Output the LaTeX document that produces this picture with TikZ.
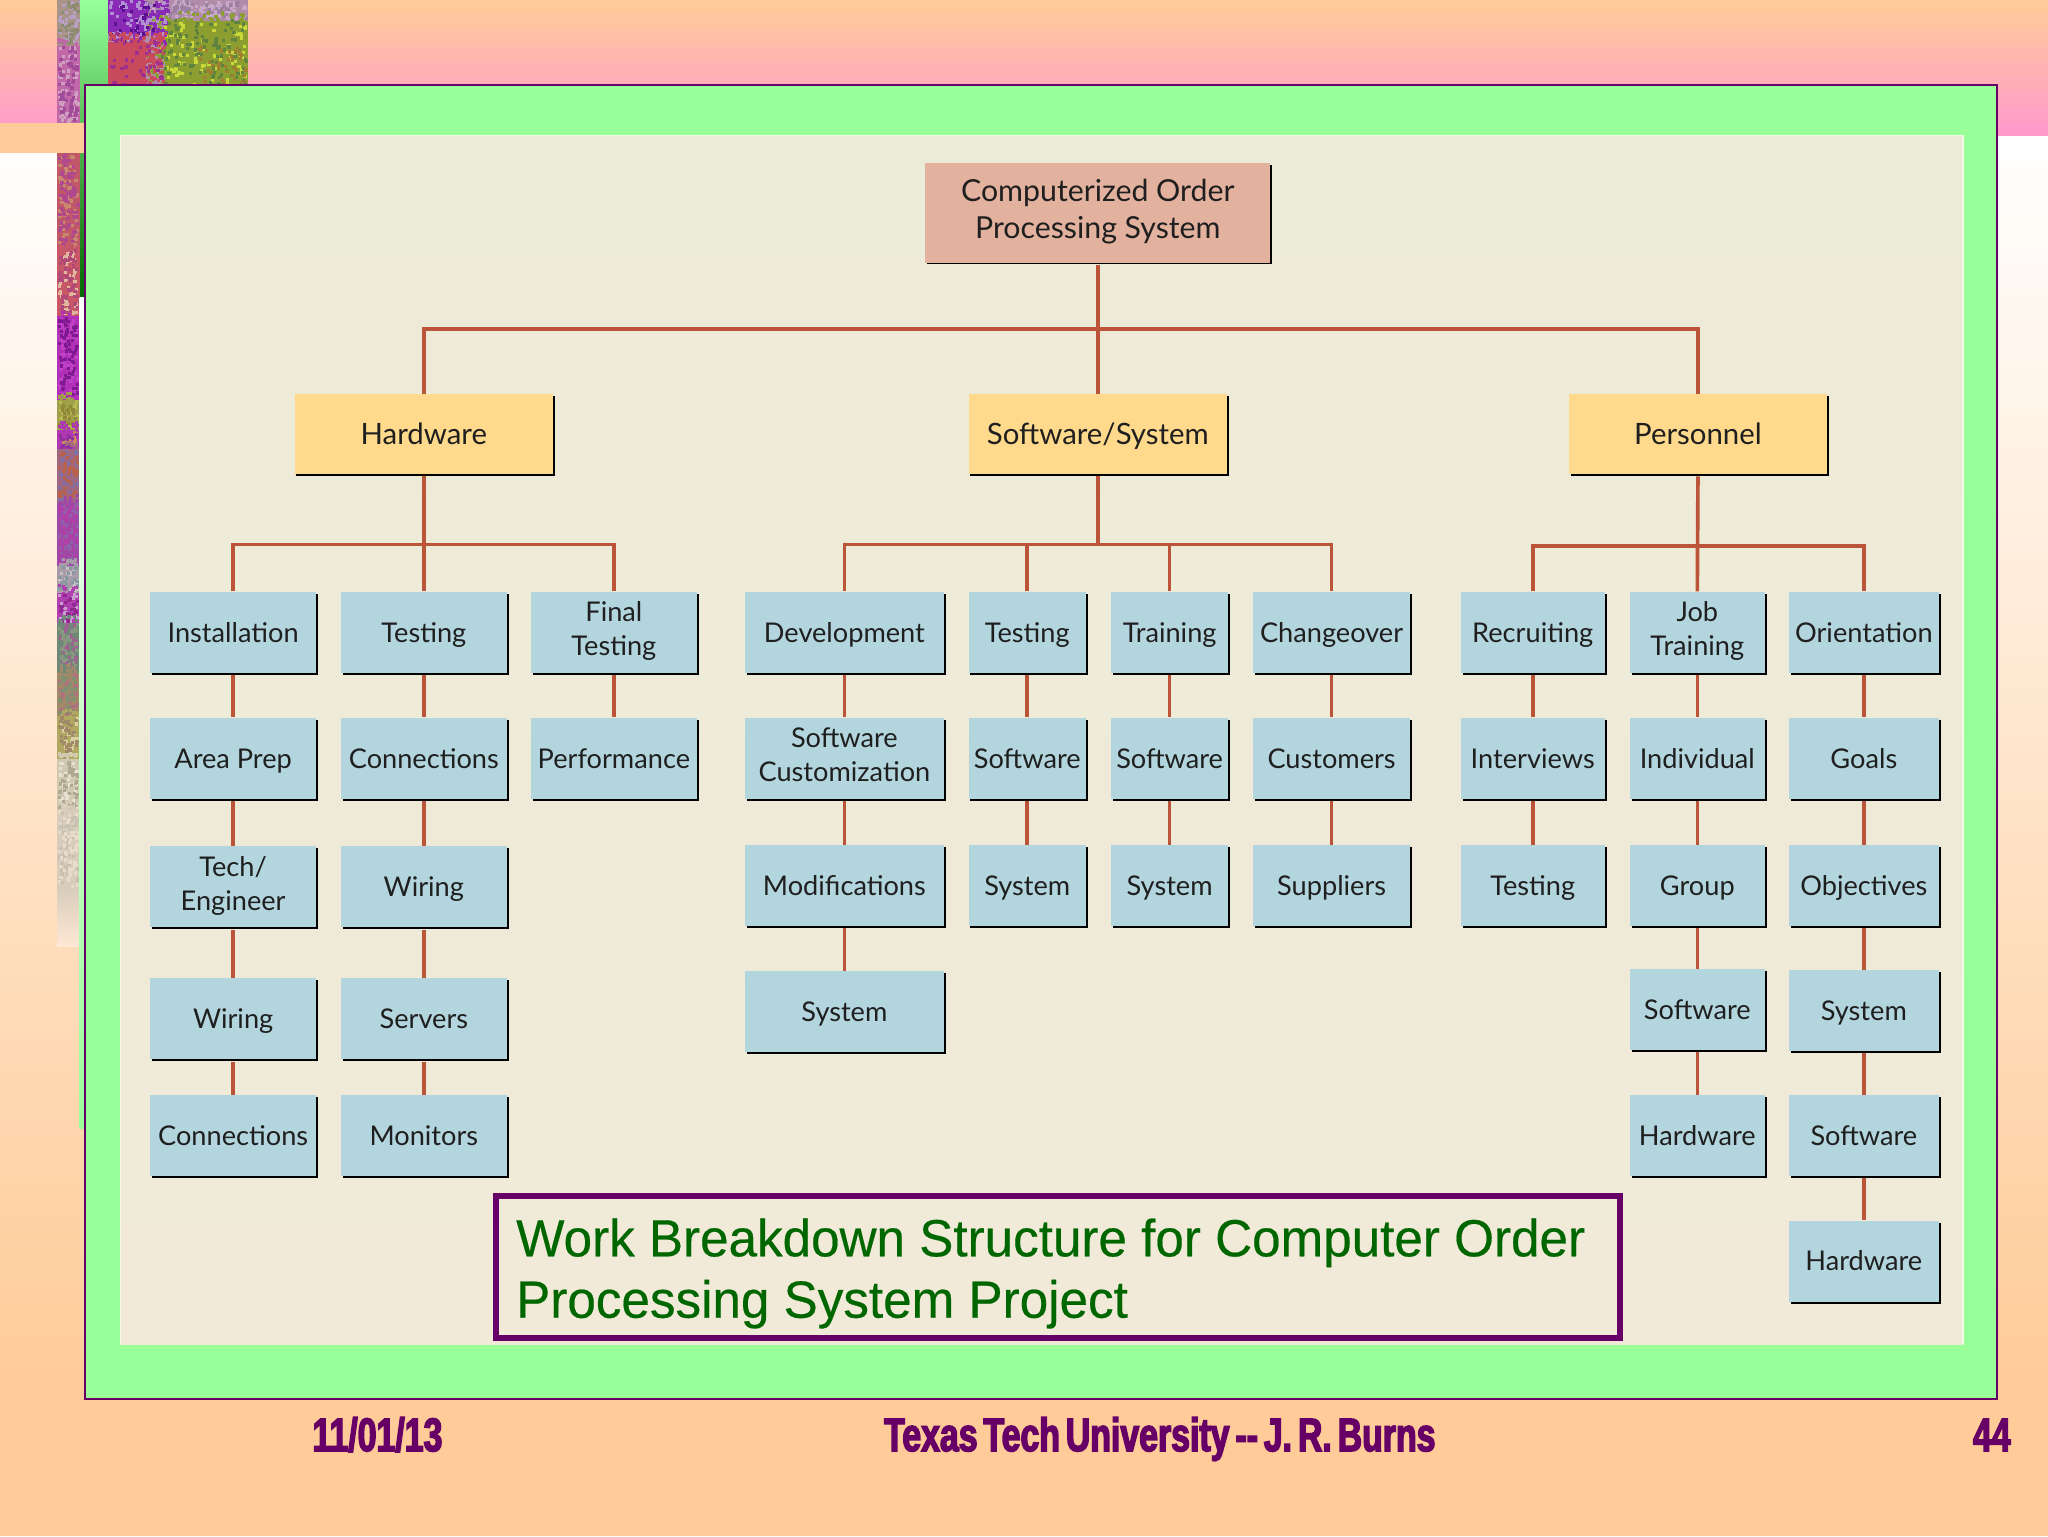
\documentclass[tikz,border=0pt]{standalone}
\usepackage{fontspec}
\setmainfont{Lato}
\newfontfamily\capfont[FakeStretch=0.98,FakeBold=0.4]{Liberation Sans}
\newfontfamily\footfont[FakeStretch=0.72,BoldFeatures={FakeBold=3}]{Liberation Sans}
\usetikzlibrary{shadows}
\definecolor{peach}{HTML}{FFCC99}
\definecolor{pinkband}{HTML}{FF99CC}
\definecolor{framegreen}{HTML}{99FF99}
\definecolor{plum}{HTML}{660066}
\definecolor{leafblue}{HTML}{B3D5DE}
\definecolor{midyellow}{HTML}{FFD98C}
\definecolor{rootrose}{HTML}{E2B29F}
\definecolor{linkred}{HTML}{BC5439}
\definecolor{panelTop}{HTML}{ECEBD8}
\definecolor{panelLow}{HTML}{F1EAD8}
\definecolor{panelEdge}{HTML}{F6F8E6}
\definecolor{captiongreen}{HTML}{006600}
\definecolor{stripEnd}{HTML}{D8CDBC}
\definecolor{stripFade}{HTML}{FFE8D4}
\newcommand{\boxstrut}{\rule[-0.21\baselineskip]{0pt}{\baselineskip}}
\newcommand{\footspace}{\spaceskip=4.5pt\relax}
\newcommand{\patch}[5]{%
  \definecolor{patchcol}{HTML}{#5}
  \fill[patchcol] (#1,#2) rectangle (#3,#4);
}
\newcommand{\mottle}[6]{%
  \definecolor{mottlecol}{HTML}{#5}
  \foreach \k in {1,...,#6} {
    \pgfmathsetmacro{\px}{#1+rnd*(#3-#1-2.5)}
    \pgfmathsetmacro{\py}{#2+rnd*(#4-#2-2.5)}
    \fill[mottlecol] (\px,\py) rectangle +(2.5,2.5);
  }
}
\newcommand{\band}[5]{%
  \patch{44}{#1}{61}{#1+#5}{#2}
  \mottle{44}{#1-7}{61}{#1+#5}{#2}{#5}
  \mottle{44}{#1}{61}{#1+#5}{#3}{#5}
  \mottle{44}{#1}{61}{#1+#5}{#4}{#5}
}
\tikzset{
boxbase/.style={inner sep=0pt,align=center,text=black!88,
  execute at begin node=\boxstrut,execute at end node=\boxstrut,
  drop shadow={shadow xshift=1.5pt,shadow yshift=-1.5pt,fill=black,opacity=1}},
leaf/.style={boxbase,fill=leafblue,minimum height=62pt,font=\fontsize{20.8}{26}\selectfont},
mid/.style={boxbase,fill=midyellow,minimum width=198pt,minimum height=61pt,font=\fontsize{22.5}{28}\selectfont},
rootbox/.style={boxbase,fill=rootrose,minimum width=264pt,minimum height=76pt,font=\fontsize{23.2}{28}\selectfont},
link/.style={draw=linkred,line width=2.8pt},
foot/.style={inner sep=0pt,anchor=base,text=plum,execute at begin node=\footspace,font=\footfont\bfseries\fontsize{36}{36}\selectfont},
}
\begin{document}
\begin{tikzpicture}[x=1pt,y=-1pt]
\useasboundingbox (0,0) rectangle (1568,1176);
\fill[peach] (0,0) rectangle (1568,1176);
\shade[top color=white,bottom color=peach] (0,104) rectangle (1568,1050);
\shade[top color=peach,bottom color=pinkband] (0,0) rectangle (1568,104);
\shade[top color=framegreen,bottom color=green!40!black] (61,0) rectangle (83,228);
\pgfmathsetseed{44}
\patch{83}{0}{190}{66}{B08CA8}
\mottle{112}{0}{190}{16}{C8A8C8}{110}
\mottle{112}{0}{190}{16}{9C80A0}{60}
\patch{126}{16}{190}{66}{8C9E30}
\mottle{112}{8}{190}{66}{8C9E30}{260}
\mottle{122}{14}{190}{66}{C8D838}{90}
\mottle{122}{14}{190}{66}{5F8440}{110}
\mottle{150}{35}{190}{66}{A08030}{40}
\patch{83}{0}{110}{26}{8A2BB8}
\mottle{83}{0}{130}{36}{8A2BB8}{200}
\mottle{83}{0}{128}{34}{B090D0}{60}
\mottle{83}{0}{120}{34}{5A1090}{30}
\patch{83}{32}{112}{66}{C84A5C}
\mottle{83}{24}{128}{66}{C84A5C}{220}
\mottle{83}{24}{126}{66}{A03090}{40}
\band{0}{A89488}{B8A0C8}{8C8C70}{35}
\band{35}{C068A8}{D0A0C0}{A04C98}{59}
\band{117}{C05868}{C88870}{B04890}{74}
\band{191}{C85868}{E0B8A0}{B04878}{51}
\band{242}{B030B8}{C040C8}{801890}{64}
\band{306}{A0A048}{B8B850}{908838}{23}
\band{329}{B038B0}{C88860}{9030A0}{15}
\band{344}{A06880}{8070A8}{B86048}{41}
\band{385}{A048A8}{9060A8}{B040A8}{48}
\band{433}{A89CA8}{C8C0C0}{8898A0}{21}
\band{454}{B040B0}{C8A0D0}{902890}{23}
\band{477}{708878}{A06090}{889880}{38}
\band{515}{A08868}{B07080}{809070}{33}
\band{548}{B0A860}{D8D0A0}{A08868}{33}
\band{581}{D0C8B0}{E8E0D0}{B0A890}{39}
\band{620}{D8CDBC}{C8C0B0}{E8DCC8}{60}
\shade[top color=stripEnd,bottom color=stripFade] (44,680) rectangle (61,725);
\fill[peach] (0,94) rectangle (64,117);
\shade[top color=white,bottom color=framegreen] (61,228) rectangle (65,864);
\fill[framegreen,draw=plum,line width=2pt] (65,65) rectangle (1529,1071);
\shade[top color=panelTop,bottom color=panelLow] (92,104) rectangle (1503,1029);
\draw[panelEdge,line width=1pt] (92,1029) |- (1503,104) -- (1503,1029);

\node[rootbox] (root) at (840.5,163) {Computerized Order\\Processing System};
\node[mid] (hw) at (324.5,332.5) {Hardware};
\node[mid] (sw) at (840.5,332.5) {Software/System};
\node[mid] (pers) at (1300,332.5) {Personnel};

\node[leaf,minimum width=127pt] (inst) at (178.5,484) {Installation};
\node[leaf,minimum width=127pt] (hwtest) at (324.5,484) {Testing};
\node[leaf,minimum width=127pt] (final) at (470,484) {Final\\Testing};
\node[leaf,minimum width=152pt] (dev) at (646.5,484) {Development};
\node[leaf,minimum width=90pt] (swtest) at (786.5,484) {Testing};
\node[leaf,minimum width=90pt] (train) at (895.5,484) {Training};
\node[leaf,minimum width=120pt] (change) at (1019.5,484) {Changeover};
\node[leaf,minimum width=110pt] (recruit) at (1173.5,484) {Recruiting};
\node[leaf,minimum width=103pt] (job) at (1299.5,484) {Job\\Training};
\node[leaf,minimum width=115pt] (orient) at (1427,484) {Orientation};

\node[leaf,minimum width=127pt] (area) at (178.5,580.5) {Area Prep};
\node[leaf,minimum width=127pt] (conn) at (324.5,580.5) {Connections};
\node[leaf,minimum width=127pt] (perf) at (470,580.5) {Performance};
\node[leaf,minimum width=152pt] (custom) at (646.5,580.5) {Software\\Customization};
\node[leaf,minimum width=90pt] (swsoft) at (786.5,580.5) {Software};
\node[leaf,minimum width=90pt] (trsoft) at (895.5,580.5) {Software};
\node[leaf,minimum width=120pt] (cust) at (1019.5,580.5) {Customers};
\node[leaf,minimum width=110pt] (inter) at (1173.5,580.5) {Interviews};
\node[leaf,minimum width=103pt] (indiv) at (1299.5,580.5) {Individual};
\node[leaf,minimum width=115pt] (goals) at (1427,580.5) {Goals};

\node[leaf,minimum width=127pt] (tech) at (178.5,679) {Tech/\\Engineer};
\node[leaf,minimum width=127pt] (wire) at (324.5,679) {Wiring};
\node[leaf,minimum width=152pt] (mods) at (646.5,678) {Modifications};
\node[leaf,minimum width=90pt] (swsys) at (786.5,678) {System};
\node[leaf,minimum width=90pt] (trsys) at (895.5,678) {System};
\node[leaf,minimum width=120pt] (supp) at (1019.5,678) {Suppliers};
\node[leaf,minimum width=110pt] (rectest) at (1173.5,678) {Testing};
\node[leaf,minimum width=103pt] (group) at (1299.5,678) {Group};
\node[leaf,minimum width=115pt] (obj) at (1427,678) {Objectives};

\node[leaf,minimum width=127pt] (techwire) at (178.5,780) {Wiring};
\node[leaf,minimum width=127pt] (serv) at (324.5,780) {Servers};
\node[leaf,minimum width=152pt] (devsys) at (646.5,774.5) {System};
\node[leaf,minimum width=103pt] (grpsoft) at (1299.5,773) {Software};
\node[leaf,minimum width=115pt] (objsys) at (1427,773.5) {System};

\node[leaf,minimum width=127pt] (wireconn) at (178.5,869.5) {Connections};
\node[leaf,minimum width=127pt] (mon) at (324.5,869.5) {Monitors};
\node[leaf,minimum width=103pt] (grphard) at (1299.5,869.5) {Hardware};
\node[leaf,minimum width=115pt] (objsoft) at (1427,869.5) {Software};
\node[leaf,minimum width=115pt] (objhard) at (1427,965.5) {Hardware};

\coordinate (rootbus) at (840.5,252);
\coordinate (hwbus) at (324.5,417);
\coordinate (swbus) at (840.5,417);
\coordinate (persbus) at (1300,418);
\draw[link,shorten <=1.5pt] (root.south) -- (sw.north);
\draw[link] (hw.north) |- (rootbus) -| (pers.north);
\draw[link,shorten <=1.5pt] (hw.south) -- (hwtest.north);
\draw[link] (inst.north) |- (hwbus) -| (final.north);
\draw[link,shorten <=1.5pt] (sw.south) -- (swbus);
\draw[link] (dev.north) |- (swbus) -| (change.north);
\draw[link] (swtest.north) |- (swbus);
\draw[link] (train.north) |- (swbus);
\draw[link,shorten <=1.5pt] (pers.south) -- (job.north);
\draw[link] (recruit.north) |- (persbus) -| (orient.north);
\foreach \a/\b in {inst/area,area/tech,tech/techwire,techwire/wireconn,
  hwtest/conn,conn/wire,wire/serv,serv/mon,final/perf,
  dev/custom,custom/mods,mods/devsys,swtest/swsoft,swsoft/swsys,
  train/trsoft,trsoft/trsys,change/cust,cust/supp,
  recruit/inter,inter/rectest,job/indiv,indiv/group,group/grpsoft,grpsoft/grphard,
  orient/goals,goals/obj,obj/objsys,objsys/objsoft,objsoft/objhard}
  \draw[link,shorten <=1.5pt] (\a.south) -- (\b.north);

\node[draw=plum,line width=4.6pt,inner sep=0pt,minimum width=861pt,minimum height=109pt] (capbox) at (810,970) {};
\node[inner sep=0pt,anchor=west,align=left,text=captiongreen,font=\capfont\fontsize{40}{47}\selectfont] (captext) at (395,975) {Work Breakdown Structure for Computer Order\\Processing System Project};

\node[foot] (date) at (289,1111) {11/01/13};
\node[foot] (school) at (888,1111) {Texas Tech University -- J. R. Burns};
\node[foot] (page) at (1525,1111) {44};
\end{tikzpicture}
\end{document}
